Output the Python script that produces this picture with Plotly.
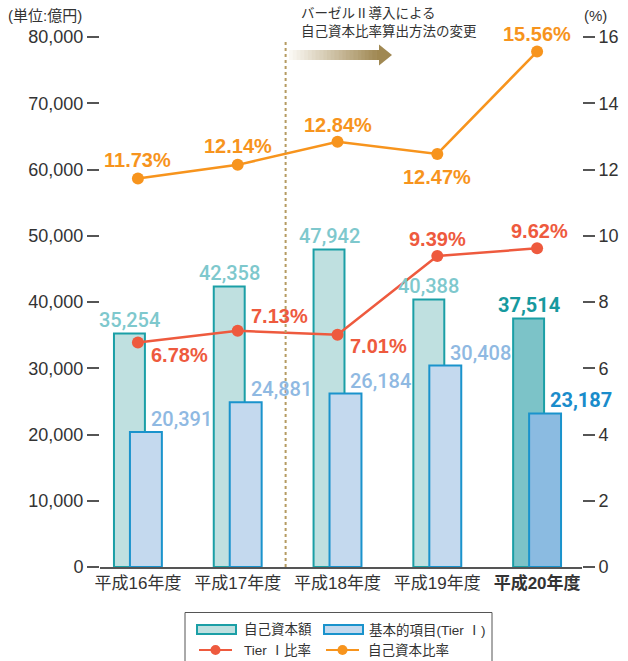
import plotly.graph_objects as go

categories = ["平成16年度", "平成17年度", "平成18年度", "平成19年度", "平成20年度"]
capital = [35254, 42358, 47942, 40388, 37514]
tier1 = [20391, 24881, 26184, 30408, 23187]
tier1_ratio = [6.78, 7.13, 7.01, 9.39, 9.62]
capital_ratio = [11.73, 12.14, 12.84, 12.47, 15.56]
series_names = ["自己資本額", "基本的項目(Tier Ⅰ)", "Tier Ⅰ比率", "自己資本比率"]

W, H = 628, 661
ML, MR, MT, MB = 100, 46, 37, 94
PW, PH = W - ML - MR, H - MT - MB


def px(x):
    return (x - ML) / PW


def py(y):
    return (H - MB - y) / PH


FONT = "Liberation Sans, Arial, Noto Sans CJK JP"
NUMFONT = "Roboto, Liberation Sans, Arial"
xs = list(range(len(categories)))

TEAL_LINE, BLUE_LINE = "#1b9fa6", "#1a93cc"
RED, ORANGE = "#ee5a3e", "#f7941d"
teal_fill = ["#bfe0e0"] * 4 + ["#7cc3c8"]
blue_fill = ["#c4d9ee"] * 4 + ["#8bbbe1"]

fig = go.Figure()
fig.add_trace(go.Bar(
    x=xs, y=capital, name=series_names[0], width=0.31, offset=-0.24, showlegend=False,
    marker=dict(color=teal_fill, line=dict(color=TEAL_LINE, width=2)),
))
fig.add_trace(go.Bar(
    x=xs, y=tier1, name=series_names[1], width=0.32, offset=-0.08, showlegend=False,
    marker=dict(color=blue_fill, line=dict(color=BLUE_LINE, width=2)),
))
fig.add_trace(go.Scatter(
    x=xs, y=tier1_ratio, name=series_names[2], yaxis="y2", mode="lines+markers",
    showlegend=False, line=dict(color=RED, width=2.5), marker=dict(size=12, color=RED),
))
fig.add_trace(go.Scatter(
    x=xs, y=capital_ratio, name=series_names[3], yaxis="y2", mode="lines+markers",
    showlegend=False, line=dict(color=ORANGE, width=2.5), marker=dict(size=12, color=ORANGE),
))

ann = []
# bar labels
for i, v in enumerate(capital):
    last = i == len(capital) - 1
    ann.append(dict(x=i - 0.085, y=v, xref="x", yref="y", text=f"{v:,}",
                    showarrow=False, yanchor="bottom", xanchor="center", yshift=-1,
                    font=dict(family=NUMFONT, size=20, color="#16999e" if last else "#7ec8cd",
                              weight=700 if last else 500)))
for i, v in enumerate(tier1):
    last = i == len(tier1) - 1
    ann.append(dict(x=i + 0.11, y=v, xref="x", yref="y", text=f"{v:,}",
                    showarrow=False, yanchor="bottom", xanchor="left", yshift=-1,
                    font=dict(family=NUMFONT, size=20, color="#1a8ccb" if last else "#8fb9e2",
                              weight=700 if last else 500)))

cap_off = [(0, 18), (0, 19), (0, 17), (0, -23), (0, 18)]
for i, v in enumerate(capital_ratio):
    dx, dy = cap_off[i]
    ann.append(dict(x=i, y=v, xref="x", yref="y2", text=f"{v:.2f}%", showarrow=False,
                    xanchor="center", yanchor="middle", xshift=dx, yshift=dy,
                    font=dict(family=FONT, size=20, color=ORANGE, weight="bold")))
t1_off = [(42, -13), (42, 15), (41, -11), (0, 17), (2, 17)]
for i, v in enumerate(tier1_ratio):
    dx, dy = t1_off[i]
    ann.append(dict(x=i, y=v, xref="x", yref="y2", text=f"{v:.2f}%", showarrow=False,
                    xanchor="center", yanchor="middle", xshift=dx, yshift=dy,
                    font=dict(family=FONT, size=20, color=RED, weight="bold")))

ann.append(dict(x=px(6), y=py(15), xref="paper", yref="paper", text="(単位:億円)",
                showarrow=False, xanchor="left", yanchor="middle",
                font=dict(family=FONT, size=15, color="#333")))
ann.append(dict(x=px(595), y=py(16), xref="paper", yref="paper", text="(%)",
                showarrow=False, xanchor="center", yanchor="middle",
                font=dict(family=FONT, size=15, color="#333")))
ann.append(dict(x=px(299), y=py(22.5), xref="paper", yref="paper",
                text="バーゼルⅡ導入による<br>自己資本比率算出方法の変更",
                showarrow=False, xanchor="left", yanchor="middle", align="left",
                font=dict(family=FONT, size=13.5, color="#333")))

shapes = []
# dotted divider
shapes.append(dict(type="line", xref="x", yref="paper", x0=1.48, x1=1.48,
                   y0=0, y1=py(42), line=dict(color="#b59b62", width=2, dash="dot")))
# gradient arrow
n = 24
x_start, x_end = 289, 380
c0, c1 = (250, 248, 243), (160, 136, 82)
for k in range(n):
    t = k / (n - 1)
    col = tuple(int(c0[j] + (c1[j] - c0[j]) * t) for j in range(3))
    xa = x_start + (x_end - x_start) * k / n
    xb = x_start + (x_end - x_start) * (k + 1) / n + 0.6
    shapes.append(dict(type="rect", xref="paper", yref="paper",
                       x0=px(xa), x1=px(xb), y0=py(60), y1=py(50),
                       fillcolor="rgb(%d,%d,%d)" % col, line=dict(width=0)))
shapes.append(dict(type="path", xref="paper", yref="paper",
                   path=f"M {px(379)} {py(44.5)} L {px(392)} {py(55)} L {px(379)} {py(65.5)} Z",
                   fillcolor="rgb(160,136,82)", line=dict(width=0)))

# legend box (drawn)
shapes.append(dict(type="rect", xref="paper", yref="paper", x0=px(185), x1=px(492),
                   y0=py(664), y1=py(612.5), line=dict(color="#555", width=1),
                   fillcolor="rgba(0,0,0,0)"))
leg_cols = [197, 324]
row1, row2 = 629.5, 650
for c, fill, lc in zip(leg_cols, [teal_fill[0], blue_fill[0]], [TEAL_LINE, BLUE_LINE]):
    shapes.append(dict(type="rect", xref="paper", yref="paper", x0=px(c), x1=px(c + 39),
                       y0=py(row1 + 4.5), y1=py(row1 - 4.5), fillcolor=fill,
                       line=dict(color=lc, width=2)))
for c, lc in zip(leg_cols, [RED, ORANGE]):
    shapes.append(dict(type="line", xref="paper", yref="paper", x0=px(c + 2), x1=px(c + 35),
                       y0=py(row2), y1=py(row2), line=dict(color=lc, width=2)))
    shapes.append(dict(type="circle", xref="paper", yref="paper",
                       x0=px(c + 18.5 - 5), x1=px(c + 18.5 + 5),
                       y0=py(row2 + 5), y1=py(row2 - 5), fillcolor=lc, line=dict(width=0)))
leg_text = [(242, row1, series_names[0]), (367, row1, series_names[1]),
            (242, row2, series_names[2]), (366, row2, series_names[3])]
for x, y, t in leg_text:
    ann.append(dict(x=px(x), y=py(y), xref="paper", yref="paper", text=t, showarrow=False,
                    xanchor="left", yanchor="middle",
                    font=dict(family=FONT, size=13.5, color="#333")))

fig.update_layout(
    width=W, height=H,
    margin=dict(l=ML, r=MR, t=MT, b=MB, autoexpand=False),
    paper_bgcolor="white", plot_bgcolor="white",
    barmode="overlay", showlegend=False,
    font=dict(family=FONT, color="#333"),
    xaxis=dict(range=[-0.38, 4.45], tickvals=xs,
               ticktext=categories[:-1] + ["<b>" + categories[-1] + "</b>"],
               showgrid=False, zeroline=False, showline=True, linecolor="#555",
               linewidth=2, ticks="", tickfont=dict(size=17, color="#333")),
    yaxis=dict(range=[0, 80000], dtick=10000, tickformat=",", showgrid=False,
               zeroline=False, showline=False, ticks="outside", ticklen=12,
               tickcolor="#555", tickwidth=1.5, tickfont=dict(size=18, color="#333")),
    yaxis2=dict(range=[0, 16], dtick=2, overlaying="y", side="right", showgrid=False,
                zeroline=False, showline=False, ticks="outside", ticklen=12,
                tickcolor="#555", tickwidth=1.5, tickfont=dict(size=18, color="#333")),
    annotations=ann, shapes=shapes,
)

fig.write_html("out.html")
